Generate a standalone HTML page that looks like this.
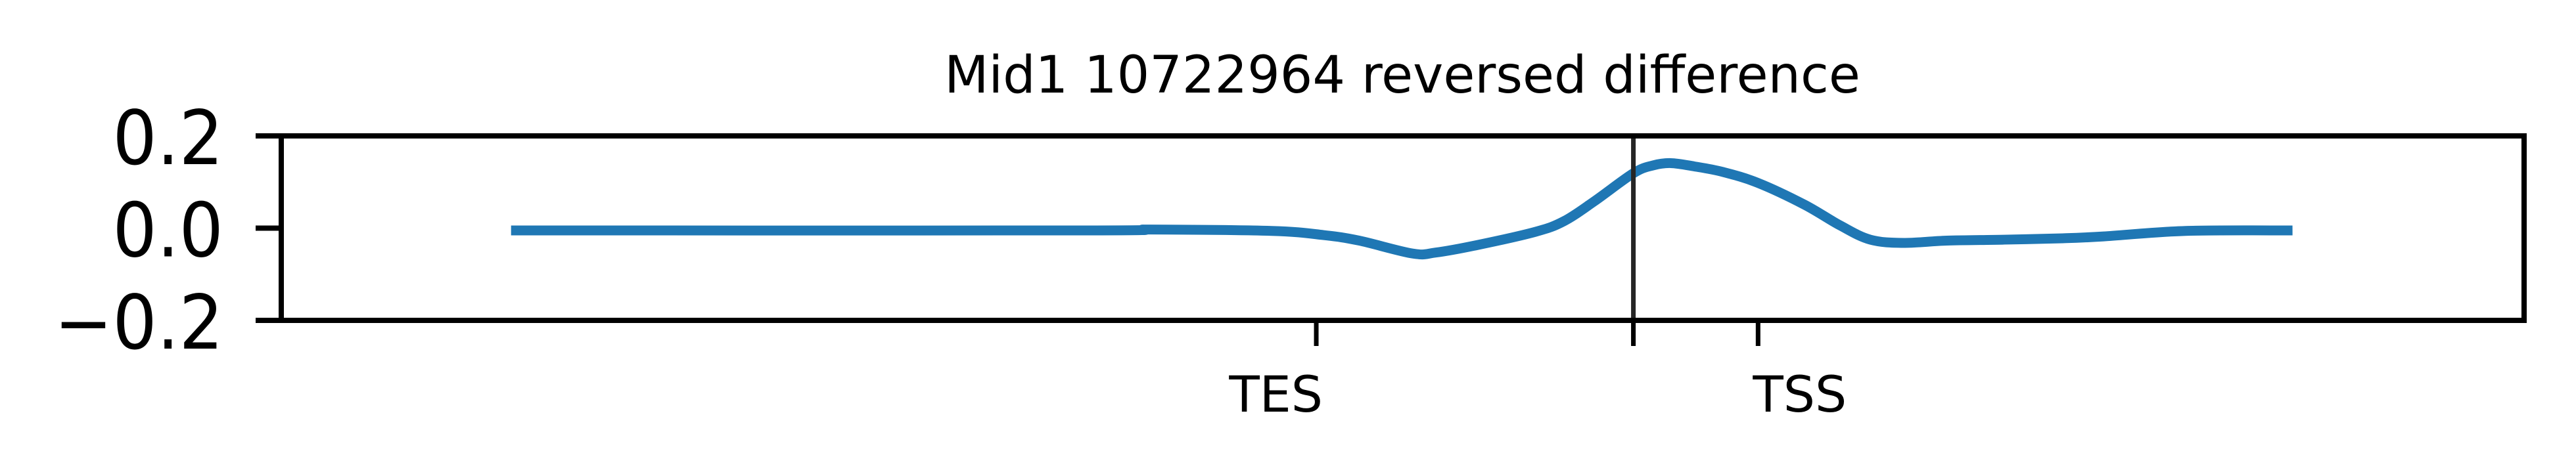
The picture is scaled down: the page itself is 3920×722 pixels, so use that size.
<!DOCTYPE html>
<html><head><meta charset="utf-8"><style>
html,body{margin:0;padding:0;background:#fff;}
svg{display:block;}
text{font-family:"DejaVu Sans","Liberation Sans",sans-serif;fill:#000;}
</style></head><body>
<svg id="chart" width="3920" height="722" viewBox="0 0 3920 722" xmlns="http://www.w3.org/2000/svg">
<rect x="0" y="0" width="3920" height="722" fill="#fff"/>
<text x="2134" y="141" font-size="78" text-anchor="middle">Mid1 10722964 reversed difference</text>
<g id="plot"></g>
</svg>
<script>
const xPos = [0, 32.2, 35.9, 42.7, 45.6, 47.6, 50.6, 51.9, 54.2, 57.5, 59.1, 60.8, 63.0, 64.1, 65.1, 66.4, 68.0, 70.0, 72.6, 74.6, 76.3, 78.2, 80.6, 83.8, 87.1, 89.4, 94.0, 100];
const diffValues = [-0.005, -0.005, -0.003, -0.006, -0.015, -0.027, -0.055, -0.053, -0.037, -0.008, 0.015, 0.058, 0.119, 0.136, 0.141, 0.134, 0.122, 0.098, 0.051, 0.006, -0.025, -0.032, -0.027, -0.025, -0.022, -0.018, -0.006, -0.005];
const yTicks = [0.2, 0.0, -0.2];
const yTickLabels = ["0.2", "0.0", "\u22120.2"];
const xTicks = [45.2, 63.0, 70.0];
const xTickLabels = ["TES", "", "TSS"];
const xDomain = [-12.9, 113.0];
const yDomain = [-0.2, 0.2];
const boundaryX = 63.0;

const L = 428, R = 3841, T = 207, B = 488;
const NS = "http://www.w3.org/2000/svg";
function sx(v){ return L + (v - xDomain[0]) / (xDomain[1] - xDomain[0]) * (R - L); }
function sy(v){ return B - (v - yDomain[0]) / (yDomain[1] - yDomain[0]) * (B - T); }
const g = document.getElementById('plot');
function mk(tag, attrs){ const e = document.createElementNS(NS, tag); for (const k in attrs) e.setAttribute(k, attrs[k]); g.appendChild(e); return e; }

const pts = xPos.map((x, i) => [sx(x), sy(diffValues[i])]);
let d = `M${pts[0][0]},${pts[0][1]}`;
for (let i = 0; i < pts.length - 1; i++) {
  const p0 = pts[Math.max(0, i - 1)], p1 = pts[i], p2 = pts[i + 1], p3 = pts[Math.min(pts.length - 1, i + 2)];
  const c1x = p1[0] + (p2[0] - p0[0]) / 6, c1y = p1[1] + (p2[1] - p0[1]) / 6;
  const c2x = p2[0] - (p3[0] - p1[0]) / 6, c2y = p2[1] - (p3[1] - p1[1]) / 6;
  d += ` C${c1x},${c1y} ${c2x},${c2y} ${p2[0]},${p2[1]}`;
}
const line = mk('path', {d: d, fill: 'none', stroke: '#1f77b4', 'stroke-width': 15, 'stroke-linejoin': 'round'});



const vl = mk('line', {x1: sx(boundaryX), x2: sx(boundaryX), y1: T, y2: B, stroke: '#262626', 'stroke-width': 7});



const frame = mk('rect', {x: L, y: T, width: R - L, height: B - T, fill: 'none', stroke: '#000', 'stroke-width': 8});



yTicks.forEach((v, i) => {
  const y = sy(v);
  const t = mk('line', {x1: L - 39, x2: L, y1: y, y2: y, stroke: '#000', 'stroke-width': 8});
  
  
  const tx = mk('text', {x: 340, y: 0, 'font-size': 106, 'text-anchor': 'end', transform: `translate(0,${y + 43}) scale(1,1.08)`});
  tx.textContent = yTickLabels[i];
  
  
});

xTicks.forEach((v, i) => {
  const x = sx(v);
  const t = mk('line', {x1: x, x2: x, y1: B, y2: B + 39, stroke: '#000', 'stroke-width': 7});
  
  
  if (xTickLabels[i]) {
    const anchor = v < boundaryX ? 'end' : 'start';
    const tx = mk('text', {x: x + (anchor === 'end' ? 10 : -8), y: 627, 'font-size': 76, 'text-anchor': anchor});
    tx.textContent = xTickLabels[i];
    
    
  }
});
</script>
</body></html>
